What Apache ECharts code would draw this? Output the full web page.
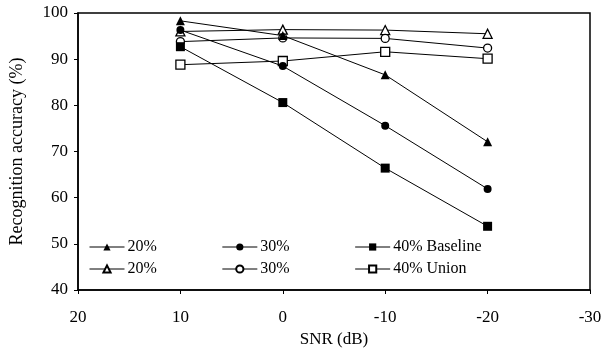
<!DOCTYPE html>
<html><head><meta charset="utf-8">
<script src="https://cdn.jsdelivr.net/npm/echarts@6/dist/echarts.min.js"></script>
<style>html,body{margin:0;padding:0;background:#fff}#c{width:605px;height:356px}</style>
</head><body><div id="c"></div>
<script>
const snr = [10, 0, -10, -20];
const base20 = [98.3, 95.1, 86.6, 72.1];
const base30 = [96.3, 88.5, 75.6, 61.9];
const base40 = [92.7, 80.6, 66.4, 53.8];
const union20 = [96.0, 96.4, 96.3, 95.5];
const union30 = [93.8, 94.6, 94.5, 92.4];
const union40 = [88.8, 89.6, 91.6, 90.1];
const xTicks = [20, 10, 0, -10, -20, -30];
const yTicks = [40, 50, 60, 70, 80, 90, 100];

const font = 'Liberation Serif';
function pts(v){ return snr.map((x,i)=>[x, v[i]]); }
function ser(name, v, symbol, filled, size){
  return {
    name, type:'line', data: pts(v), symbol, symbolSize: size,
    lineStyle:{color:'#000', width:1},
    itemStyle:{color: filled ? '#000' : '#fff', borderColor:'#000', borderWidth: filled?0:1.3},
    emphasis:{disabled:true}, animation:false, z: filled?3:2
  };
}
const series = [
  ser('20% Baseline', base20, 'triangle', true, 9),
  ser('30% Baseline', base30, 'circle', true, 8),
  ser('40% Baseline', base40, 'rect', true, 9),
  ser('20% Union', union20, 'triangle', false, 9),
  ser('30% Union', union30, 'circle', false, 8),
  ser('40% Union', union40, 'rect', false, 9)
];
const fmt = n => n.startsWith('40%') ? n : n.split(' ')[0];
const legendCommon = {
  orient:'horizontal', itemWidth:35, itemHeight:9, itemGap:65,
  lineStyle:{width:1},
  textStyle:{fontFamily:font, fontSize:16, color:'#000', padding:[0,0,0,-2]},
  formatter: fmt, selectedMode:false, left:84
};
const chart = echarts.init(document.getElementById('c'), null, {renderer:'canvas'});
chart.setOption({
  animation:false,
  grid:{left:76.5, right:15, top:13, bottom:66, show:true, borderColor:'#000', borderWidth:1.5, backgroundColor:'transparent'},
  legend:[
    Object.assign({}, legendCommon, {top:234, data:['20% Baseline','30% Baseline','40% Baseline']}),
    Object.assign({}, legendCommon, {top:256, data:['20% Union','30% Union','40% Union']})
  ],
  xAxis:{
    type:'value', inverse:true, min:-30, max:20, interval:10,
    name:'SNR (dB)', nameLocation:'middle', nameGap:38,
    nameTextStyle:{fontFamily:font, fontSize:17, color:'#000'},
    axisLine:{onZero:false, lineStyle:{color:'#000', width:1.5}},
    axisTick:{show:true, length:4, lineStyle:{color:'#000'}},
    axisLabel:{fontFamily:font, fontSize:17, color:'#000', margin:19},
    splitLine:{show:false}
  },
  yAxis:{
    type:'value', min:40, max:100, interval:10,
    name:'Recognition accuracy (%)', nameLocation:'middle', nameGap:52,
    nameTextStyle:{fontFamily:font, fontSize:18, color:'#000'},
    axisLine:{show:true, onZero:false, lineStyle:{color:'#000', width:1.5}},
    axisTick:{show:true, length:4, lineStyle:{color:'#000'}},
    axisLabel:{fontFamily:font, fontSize:17, color:'#000', margin:10},
    splitLine:{show:false}
  },
  series
});
</script></body></html>
